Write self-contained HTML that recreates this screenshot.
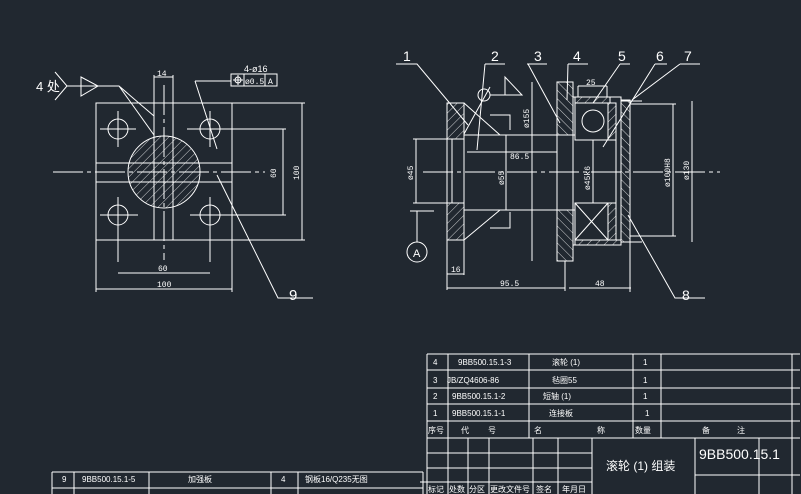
<!DOCTYPE html>
<html><head><meta charset="utf-8"><style>
html,body{margin:0;padding:0;background:#212830;}
svg{display:block;}
text{fill:#fff;font-family:"Liberation Sans","Noto Sans CJK SC",sans-serif;}
.s{font-size:8px;font-family:"Liberation Mono","Noto Sans CJK SC",monospace;}
</style></head><body>
<svg width="801" height="494" viewBox="0 0 801 494" xmlns="http://www.w3.org/2000/svg">
<defs>
<pattern id="h" width="6" height="6" patternUnits="userSpaceOnUse" patternTransform="rotate(45)">
<line x1="0" y1="0" x2="0" y2="6" stroke="#fff" stroke-width="0.8"/></pattern>
<pattern id="h2" width="6" height="6" patternUnits="userSpaceOnUse" patternTransform="rotate(-45)">
<line x1="0" y1="0" x2="0" y2="6" stroke="#fff" stroke-width="0.8"/></pattern>
</defs>
<g stroke="#fff" stroke-width="1" fill="none">
<!-- LEFT VIEW -->
<rect x="96" y="103" width="136" height="137"/>
<line x1="154" y1="75" x2="154" y2="240"/><line x1="173" y1="75" x2="173" y2="240"/>
<line x1="96" y1="163" x2="232" y2="163"/><line x1="96" y1="182" x2="232" y2="182"/>
<circle cx="164" cy="172" r="36" fill="url(#h)"/>
<line x1="53" y1="172" x2="265" y2="172" stroke-dasharray="30,4,4,4"/>
<line x1="164" y1="85" x2="164" y2="260" stroke-dasharray="30,4,4,4"/>
<g>
<circle cx="118" cy="129" r="10"/><circle cx="210" cy="129" r="10"/>
<circle cx="118" cy="215" r="10"/><circle cx="210" cy="215" r="10"/>
<path d="M100 129h36M118 111v36M187 129h45M210 111v36M100 215h38M118 197v65M190 215h43M210 197v65"/>
</g>
<path d="M118 273h92M96 289h136M96 240v52M232 240v52"/>
<path d="M283 129v86M302 103v137M232 103h73M220 129h66M220 215h66M232 240h73"/>
<path d="M154 77h19"/>
<path d="M217 175L278 298h35"/>
<path d="M55 72L67 86L55 100M81 77L98 86L81 96ZM67 86h52L154 116M119 86L154 135"/>
<rect x="231" y="74" width="46" height="12"/><path d="M244 74v12M265 74v12M195 81h36M195 81L217 149"/>
<circle cx="238" cy="80" r="3"/><path d="M233 80h10M238 75v10"/>
<!-- RIGHT VIEW -->
<rect x="447" y="103" width="17" height="36" fill="url(#h)"/>
<rect x="447" y="203" width="17" height="37" fill="url(#h)"/>
<path d="M447 139v64M452 139v64M464 139v64M447 240v50M464 240v35"/>
<path d="M464 135h111M464 210h111M467 152h103M464 103L500 135M464 240L500 210"/>
<rect x="557" y="82" width="16" height="179" fill="url(#h2)"/>
<rect x="557" y="135" width="16" height="75" fill="#212830"/>
<path d="M557 135v75M573 135v75"/>
<path d="M573 97h48v4h9v141h-9v3h-48"/>
<rect x="575" y="97" width="35" height="6" fill="url(#h)"/>
<rect x="575" y="240" width="46" height="5" fill="url(#h)"/>
<rect x="575" y="103" width="33" height="37"/><rect x="575" y="203" width="33" height="37"/>
<path d="M575 203L608 240M608 203L575 240"/>
<circle cx="593" cy="121" r="11"/>
<rect x="608" y="103" width="8" height="37" fill="url(#h)"/><rect x="608" y="203" width="8" height="37" fill="url(#h)"/>
<rect x="621" y="100" width="9" height="142" fill="url(#h2)"/>
<path d="M616 103v134M630 101h12M630 242h12"/>
<line x1="423" y1="172" x2="720" y2="172" stroke-dasharray="30,4,4,4"/>
<path d="M532 82v179M506 135v75M416 139v64M413 139h34M413 203h34M593 140v63M673 104v132M692 101v141M630 104h46M630 236h46"/>
<path d="M578 86h29M578 86v11M607 86v11M447 274h17M447 288h118M569 288h62M565 261v30M630 242v50"/>
<path d="M410 211h24M417 211v31"/><circle cx="417" cy="252" r="10"/>
<!-- section marks -->
<path d="M490 115h20v15M490 228h20v-16"/>
<!-- leaders -->
<path d="M396 64h21L468 125"/>
<path d="M485 64h20M485 64L477 150M490 87L464 134"/>
<circle cx="484" cy="95" r="6"/><path d="M490 95h32L505 77v18"/>
<path d="M527 64h20M528 64L560 123"/>
<path d="M568 64h20M568 64L567 100"/>
<path d="M620 64h10M620 64L593 103"/>
<path d="M655 64h12M655 64L603 147"/>
<path d="M680 64h20M680 64L632 100"/>
<path d="M628 215L675 298h30"/>
<!-- TABLE -->
<path d="M427 354h373M427 370h373M427 388h373M427 404h373M427 421h373M427 438h373M427 453h165M427 468h165M427 482h165M695 475h105"/>
<path d="M427 354v140M448 354v84M529 354v84M633 354v84M661 354v84M792 354v140M448 438v56M468 438v56M489 438v56M533 438v56M558 438v56M592 438v56M695 438v56M759 438v56M420 482h7"/>
<path d="M52 472h371M52 488h371M52 472v22M74 472v22M149 472v22M271 472v22M298 472v22M423 472v22"/>
</g>
<text x="36" y="91" font-size="13">4 处</text>
<text x="157" y="76" class="s">14</text>
<text x="244" y="72" font-size="9">4-ø16</text>
<text x="245" y="84" class="s">ø0.5</text><text x="268" y="84" class="s">A</text>
<text x="158" y="271" class="s">60</text><text x="157" y="287" class="s">100</text>
<text class="s" transform="translate(276,178) rotate(-90)">60</text>
<text class="s" transform="translate(299,180) rotate(-90)">100</text>
<text x="289" y="300" font-size="15">9</text>
<g font-size="14"><text x="403" y="61">1</text><text x="491" y="61">2</text><text x="534" y="61">3</text><text x="573" y="61">4</text><text x="618" y="61">5</text><text x="656" y="61">6</text><text x="684" y="61">7</text><text x="682" y="300">8</text></g>
<text class="s" transform="translate(529,128) rotate(-90)">ø155</text>
<text class="s" transform="translate(504,185) rotate(-90)">ø55</text>
<text class="s" transform="translate(413,180) rotate(-90)">ø45</text>
<text class="s" transform="translate(590,190) rotate(-90)">ø45k6</text>
<text class="s" transform="translate(670,187) rotate(-90)">ø100H8</text>
<text class="s" transform="translate(689,180) rotate(-90)">ø130</text>
<text x="510" y="159" class="s">86.5</text><text x="586" y="85" class="s">25</text>
<text x="451" y="272" class="s">16</text><text x="500" y="286" class="s">95.5</text><text x="595" y="286" class="s">48</text>
<text x="413" y="257" font-size="11">A</text>
<g class="s" font-size="7">
<text x="433" y="365">4</text><text x="458" y="365">9BB500.15.1-3</text><text x="552" y="365">滚轮 (1)</text><text x="643" y="365">1</text>
<text x="433" y="383">3</text><text x="447" y="383">JB/ZQ4606-86</text><text x="552" y="383">毡圈55</text><text x="643" y="383">1</text>
<text x="433" y="399">2</text><text x="452" y="399">9BB500.15.1-2</text><text x="543" y="399">短轴 (1)</text><text x="643" y="399">1</text>
<text x="433" y="416">1</text><text x="452" y="416">9BB500.15.1-1</text><text x="549" y="416">连接板</text><text x="645" y="416">1</text>
<text x="428" y="433">序号</text><text x="461" y="433">代</text><text x="488" y="433">号</text><text x="534" y="433">名</text><text x="597" y="433">称</text><text x="635" y="433">数量</text><text x="702" y="433">备</text><text x="737" y="433">注</text>
<text x="428" y="492">标记</text><text x="449" y="492">处数</text><text x="469" y="492">分区</text><text x="490" y="492">更改文件号</text><text x="536" y="492">签名</text><text x="562" y="492">年月日</text>
<text x="62" y="482">9</text><text x="82" y="482">9BB500.15.1-5</text><text x="188" y="482">加强板</text><text x="281" y="482">4</text><text x="305" y="482">钢板16/Q235无图</text>
</g>
<text x="606" y="470" font-size="12">滚轮 (1) 组装</text>
<text x="699" y="459" font-size="14">9BB500.15.1</text>
</svg>
</body></html>
